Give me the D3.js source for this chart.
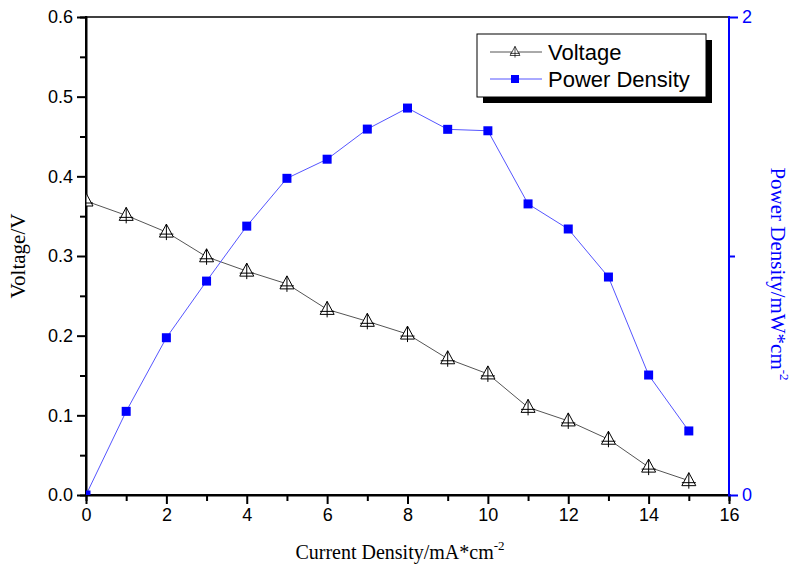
<!DOCTYPE html>
<html>
<head>
<meta charset="utf-8">
<script src="https://cdn.jsdelivr.net/npm/d3@7"></script>
<style>
  body { margin: 0; background: #fff; }
  .tick text { font-family: Arial, "Liberation Sans", sans-serif; font-size: 18px; }
</style>
</head>
<body>
<svg width="792" height="572"></svg>
<script>
// data
let current = [0, 1, 2, 3, 4, 5, 6, 7, 8, 9, 10, 11, 12, 13, 14, 15];
let voltage = [0.369, 0.351, 0.330, 0.299, 0.281, 0.265, 0.233, 0.218, 0.202, 0.171, 0.152, 0.110, 0.093, 0.070, 0.035, 0.018];
let power = [0, 0.350, 0.658, 0.895, 1.125, 1.325, 1.405, 1.531, 1.619, 1.530, 1.524, 1.218, 1.113, 0.912, 0.502, 0.268];
let xTicks = [0, 2, 4, 6, 8, 10, 12, 14, 16];
let vTicks = [0.0, 0.1, 0.2, 0.3, 0.4, 0.5, 0.6];
let pTicks = [0, 2];
let legendLabels = ["Voltage", "Power Density"];

var svg = d3.select("svg");
var margin = { left: 86, right: 63, up: 17, down: 77 };
var width = 792 - margin.left - margin.right;
var height = 572 - margin.up - margin.down;
var blue = "#0000ff";

var plot = svg.append("g")
    .attr("transform", "translate(" + margin.left + "," + margin.up + ")");

let xScale = d3.scaleLinear().domain([0, 16]).range([0, width]);
let yScale = d3.scaleLinear().domain([0, 0.6]).range([height, 0]);
let y2Scale = d3.scaleLinear().domain([0, 2]).range([height, 0]);

plot.append("clipPath").attr("id", "clip")
    .append("rect").attr("width", width).attr("height", height);

// top frame line
plot.append("line")
    .attr("x1", 0).attr("x2", width).attr("y1", 0).attr("y2", 0)
    .attr("stroke", "#000").attr("stroke-width", 1.5);

// bottom axis: majors + minors
let xAxis = d3.axisBottom(xScale).tickValues(xTicks).tickSize(8).tickPadding(5)
    .tickFormat(d3.format("d"));
plot.append("g").attr("class", "x-axis")
    .attr("transform", "translate(0," + height + ")")
    .call(xAxis);
plot.append("g")
    .attr("transform", "translate(0," + height + ")")
    .call(d3.axisBottom(xScale).tickValues(d3.range(1, 16, 2)).tickSize(5).tickFormat(""));

// left axis
let yAxis = d3.axisLeft(yScale).tickValues(vTicks).tickSize(8).tickPadding(5)
    .tickFormat(d3.format(".1f"));
plot.append("g").attr("class", "y-axis").call(yAxis);
plot.append("g")
    .call(d3.axisLeft(yScale).tickValues(d3.range(0.05, 0.6, 0.1)).tickSize(5).tickFormat(""));

// right axis (blue)
let y2Axis = d3.axisRight(y2Scale).tickValues(pTicks).tickSize(8).tickPadding(5)
    .tickFormat(d3.format("d"));
let right = plot.append("g").attr("class", "y2-axis")
    .attr("transform", "translate(" + width + ",0)")
    .call(y2Axis);
right.append("g").call(d3.axisRight(y2Scale).tickValues([1]).tickSize(5).tickFormat(""));

plot.selectAll(".domain, .tick line").attr("stroke-width", 2).attr("stroke-linecap", "square");
plot.selectAll(".tick text").attr("fill", "#000");
right.selectAll(".domain").attr("d", "M0," + height + "V0");
right.selectAll("path, line").attr("stroke", blue);
right.selectAll("text").attr("fill", blue);
plot.select(".x-axis .domain").attr("d", "M0,0H" + width);
plot.select(".y-axis .domain").attr("d", "M0," + height + "V0");

// lines and markers
let marks = plot.append("g").attr("clip-path", "url(#clip)");

let vLine = d3.line().x((d, i) => xScale(current[i])).y(d => yScale(d));
let pLine = d3.line().x((d, i) => xScale(current[i])).y(d => y2Scale(d));

marks.append("path").datum(voltage)
    .attr("d", vLine).attr("fill", "none").attr("stroke", "#555").attr("stroke-width", 1);
marks.append("path").datum(power)
    .attr("d", pLine).attr("fill", "none").attr("stroke", "#5555ff").attr("stroke-width", 1);

function triangle(g) {
    g.append("path").attr("d", "M0,-8L7,5L-7,5Z")
        .attr("fill", "#fff").attr("stroke", "#000").attr("stroke-width", 1);
    g.append("path").attr("d", "M0,-8V8M-7,2H7")
        .attr("stroke", "#000").attr("stroke-width", 1);
}

marks.selectAll(".tri").data(voltage).enter().append("g")
    .attr("class", "tri")
    .attr("transform", (d, i) => "translate(" + xScale(current[i]) + "," + yScale(d) + ")")
    .call(triangle);

marks.selectAll(".sq").data(power).enter().append("rect")
    .attr("class", "sq")
    .attr("x", (d, i) => xScale(current[i]) - 4.5)
    .attr("y", d => y2Scale(d) - 4.5)
    .attr("width", 9).attr("height", 9)
    .attr("fill", blue);

// axis titles
svg.append("text")
    .attr("transform", "translate(400,559)")
    .attr("text-anchor", "middle")
    .style("font-family", "'Liberation Serif', 'Times New Roman', serif")
    .style("font-size", "20px")
    .html("Current Density/mA*cm<tspan dy='-9' font-size='13px'>-2</tspan>");

svg.append("text")
    .attr("transform", "translate(25,256) rotate(-90)")
    .attr("text-anchor", "middle")
    .style("font-family", "'Liberation Serif', 'Times New Roman', serif")
    .style("font-size", "21px")
    .text("Voltage/V");

svg.append("text")
    .attr("transform", "translate(771,274) rotate(90)")
    .attr("text-anchor", "middle")
    .attr("fill", blue)
    .style("font-family", "'Liberation Serif', 'Times New Roman', serif")
    .style("font-size", "21px")
    .html("Power Density/mW*cm<tspan dy='-9' font-size='13px'>-2</tspan>");

// legend
let legend = svg.append("g").attr("transform", "translate(477,34)");
legend.append("rect").attr("x", 6).attr("y", 6).attr("width", 229).attr("height", 63).attr("fill", "#000");
legend.append("rect").attr("width", 229).attr("height", 63)
    .attr("fill", "#fff").attr("stroke", "#000").attr("stroke-width", 1);

let rows = legend.selectAll(".row").data(legendLabels).enter().append("g")
    .attr("class", "row")
    .attr("transform", (d, i) => "translate(0," + (18 + i * 27) + ")");
rows.append("line").attr("x1", 13).attr("x2", 65).attr("y1", 0).attr("y2", 0)
    .attr("stroke", (d, i) => i === 0 ? "#555" : "#5555ff");
rows.filter((d, i) => i === 0).append("g")
    .attr("transform", "translate(38,0) scale(0.7)")
    .call(triangle);
rows.filter((d, i) => i === 1).append("rect")
    .attr("x", 34).attr("y", -4).attr("width", 8).attr("height", 8).attr("fill", blue);
rows.append("text").attr("x", 71).attr("y", 8)
    .style("font-family", "Arial, 'Liberation Sans', sans-serif")
    .style("font-size", "22px")
    .text(d => d);
</script>
</body>
</html>
